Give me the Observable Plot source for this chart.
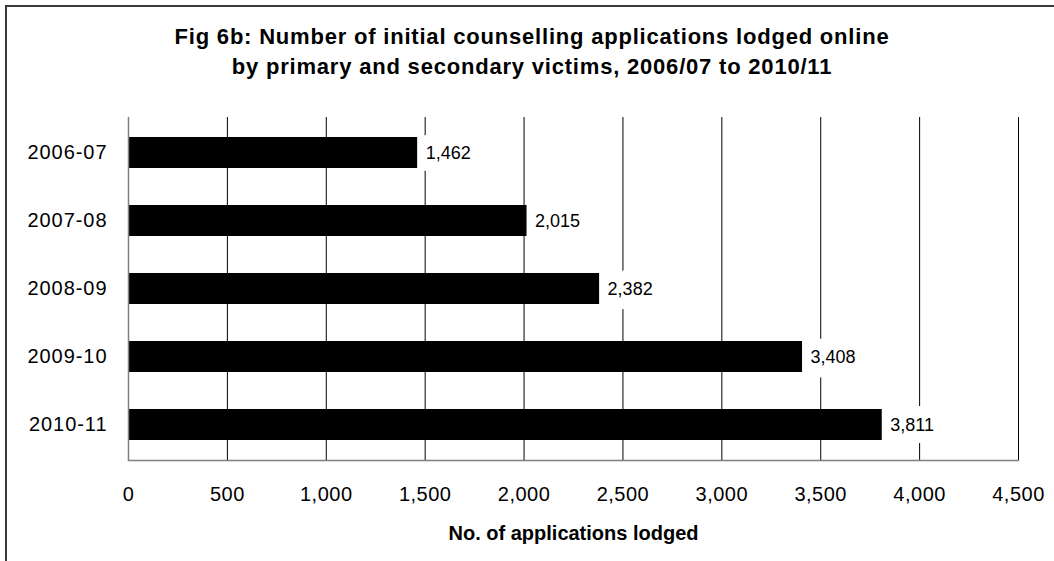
<!DOCTYPE html>
<html>
<head>
<meta charset="utf-8">
<script src="https://cdn.jsdelivr.net/npm/d3@7"></script>
<script src="https://cdn.jsdelivr.net/npm/@observablehq/plot@0.6"></script>
<style>
  html, body { margin: 0; padding: 0; background: #fff; }
  body { width: 1054px; height: 561px; overflow: hidden; position: relative; font-family: "Liberation Sans", Arial, sans-serif; }
  #frame { position: absolute; left: 5px; top: 5px; width: 1100px; height: 600px; border-left: 2px solid #3a3a3a; border-top: 2px solid #3a3a3a; }
  #title { position: absolute; left: 0; top: 22px; width: 1064px; text-align: center; font-weight: bold; font-size: 22px; line-height: 30px; letter-spacing: 0.8px; color: #000; }
  #chart { position: absolute; left: 0; top: 0; }
  #chart g[aria-label="y-axis tick label"] text { letter-spacing: 0.95px; }
  #chart g[aria-label="x-axis tick label"] text { letter-spacing: 0.5px; }
  #chart g[aria-label="value labels"] text, #chart g[aria-label="value halos"] text { letter-spacing: 0.5px; }
  #chart g[aria-label="axis title"] text { letter-spacing: 0.35px; }
</style>
</head>
<body>
<div id="frame"></div>
<div id="chart"></div>
<div id="title">Fig 6b: Number of initial counselling applications lodged online<br>by primary and secondary victims, 2006/07 to 2010/11</div>
<script>
const years = ["2006-07", "2007-08", "2008-09", "2009-10", "2010-11"];
const applications = [1462, 2015, 2382, 3408, 3811];
const xTicks = [0, 500, 1000, 1500, 2000, 2500, 3000, 3500, 4000, 4500];
const xLabel = "No. of applications lodged";

const data = years.map((y, i) => ({year: y, value: applications[i]}));
const fmt = d3.format(",");

const chart = Plot.plot({
  width: 1054,
  height: 561,
  marginLeft: 128,
  marginRight: 36,
  marginTop: 117,
  marginBottom: 101,
  style: {fontFamily: "'Liberation Sans', Arial, sans-serif", background: "transparent"},
  x: {domain: [0, 4500]},
  y: {domain: years, paddingInner: 0.55, paddingOuter: 0.28},
  marks: [
    Plot.ruleX(xTicks.filter(t => t > 0), {stroke: "#000", strokeWidth: 1}),
    Plot.text(data, {x: "value", y: "year", text: d => fmt(d.value), textAnchor: "start", dx: 8, fontSize: 18, fill: "white", stroke: "white", strokeWidth: 24, strokeLinejoin: "round", ariaLabel: "value halos"}),
    Plot.barX(data, {x: "value", y: "year", fill: "#000"}),
    Plot.text(data, {x: "value", y: "year", text: d => fmt(d.value), textAnchor: "start", dx: 8, fontSize: 18, fill: "#000", ariaLabel: "value labels"}),
    Plot.ruleX([0], {stroke: "#808080", strokeWidth: 1.5}),
    Plot.axisX({ticks: xTicks, tickSize: 0, tickPadding: 26, tickFormat: fmt, fontSize: 20, label: null}),
    Plot.axisY({tickSize: 0, tickPadding: 21, fontSize: 20, label: null}),
    Plot.frame({anchor: "bottom", stroke: "#808080", strokeWidth: 1.5}),
    Plot.text([xLabel], {frameAnchor: "bottom", lineAnchor: "middle", dy: 73, fontSize: 20, fontWeight: "bold", fill: "#000", ariaLabel: "axis title"})
  ]
});
document.getElementById("chart").appendChild(chart);
</script>
</body>
</html>
